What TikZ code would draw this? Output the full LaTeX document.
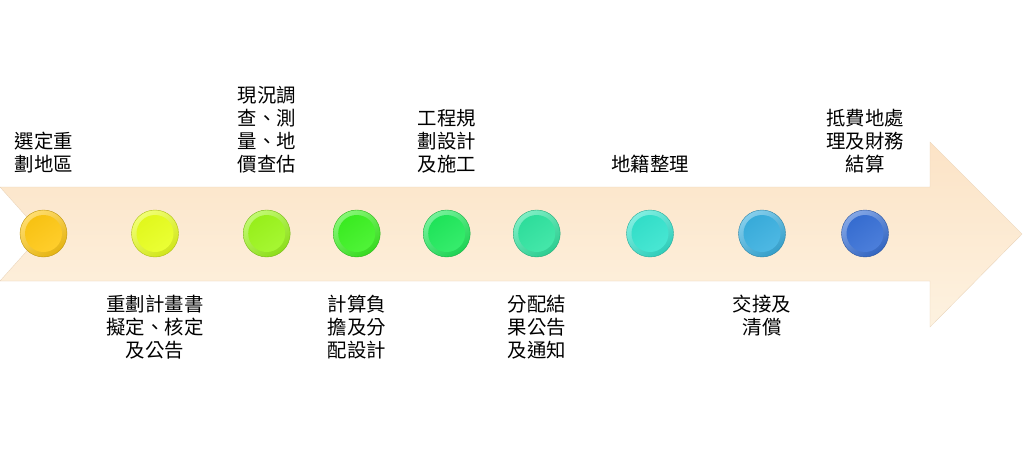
\documentclass[tikz,border=0pt]{standalone}
\usepackage{fontspec}
\newfontfamily\cjk{Noto Sans CJK TC}
\definecolor{k1}{RGB}{255,200,20}
\definecolor{k2}{RGB}{232,255,30}
\definecolor{k3}{RGB}{156,246,28}
\definecolor{k4}{RGB}{60,242,34}
\definecolor{k5}{RGB}{32,234,92}
\definecolor{k6}{RGB}{48,228,160}
\definecolor{k7}{RGB}{52,228,206}
\definecolor{k8}{RGB}{58,176,224}
\definecolor{k9}{RGB}{56,112,214}
\definecolor{bandtop}{RGB}{252,227,198}
\definecolor{bandbot}{RGB}{253,242,224}
\tikzset{
  rim/.style={circle, minimum size=47pt, inner sep=0pt, draw=#1!75!black, line width=0.4pt,
    top color=#1!62!white, bottom color=#1!90!black, shading angle=35},
  face/.style={circle, minimum size=37pt, inner sep=0pt,
    top color=#1!97!black, bottom color=#1!90!white, shading angle=35},
  lbl/.style={font=\cjk\fontsize{19.4}{22.8}\selectfont, align=center, inner sep=0pt, text=black},
  above lbl/.style={lbl, anchor=south},
  below lbl/.style={lbl, anchor=north}
}
\begin{document}
\begin{tikzpicture}[x=1pt,y=-1pt]
\useasboundingbox (0,0) rectangle (1024,468);
\fill[white] (0,0) rectangle (1024,468);
% big arrow
\shade[top color=bandtop, bottom color=bandbot, draw=bandtop!92!black, line width=0.3pt]
  (0,187) -- (930,187) -- (930,142) -- (1022,234) -- (930,327) -- (930,281) -- (0,281) -- (42,234) -- cycle;
% dots
\foreach \i/\x in {1/43.5,2/155,3/266.7,4/356.7,5/446.7,6/536.7,7/650,8/762,9/865}{
  \node[rim=k\i] (c\i) at (\x,233.5) {};
  \node[face=k\i] (f\i) at (c\i.center) {};
}
% labels
\node[above lbl] (t1) at (44,173) {選定重\\劃地區};
\node[below lbl] (t2) at (155,295) {重劃計畫書\\擬定、核定\\及公告};
\node[above lbl] (t3) at (267,173) {現況調\\查、測\\量、地\\價查估};
\node[below lbl] (t4) at (357,295) {計算負\\擔及分\\配設計};
\node[above lbl] (t5) at (447,173) {工程規\\劃設計\\及施工};
\node[below lbl] (t6) at (537,295) {分配結\\果公告\\及通知};
\node[above lbl] (t7) at (650,173) {地籍整理};
\node[below lbl] (t8) at (762,295) {交接及\\清償};
\node[above lbl] (t9) at (865,173) {抵費地處\\理及財務\\結算};
\end{tikzpicture}
\end{document}
